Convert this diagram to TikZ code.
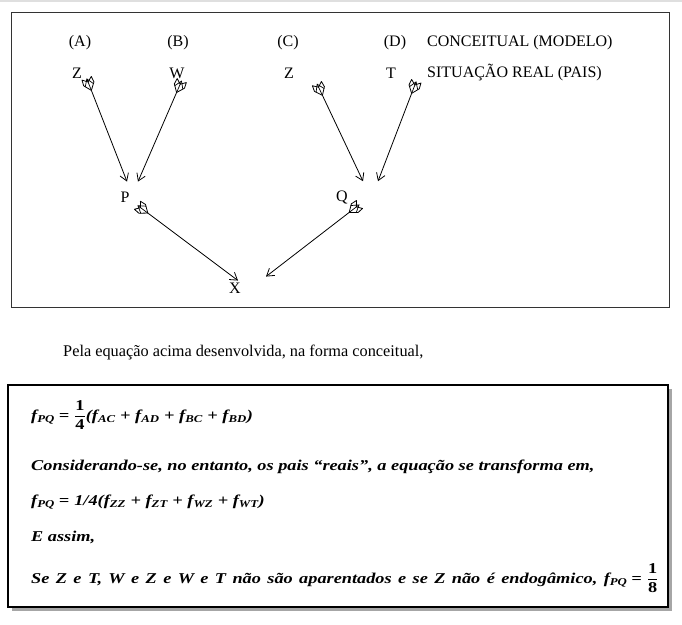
\documentclass[tikz,border=0pt]{standalone}
\usepackage{fontspec}
\setmainfont{Liberation Serif}
\newfontfamily\eqfont{Liberation Serif}[FakeStretch=1.22]
\usepackage{amsmath}
\usetikzlibrary{arrows.meta, decorations.markings}

\newcommand{\eqsign}{\hspace{4pt}=\hspace{5pt}}

\tikzset{
  lbl/.style={inner sep=1pt, font=\fontsize{16}{19}\selectfont},
  link/.style={line width=0.8pt, -{Straight Barb[length=7pt,width=9pt]},
    postaction={decorate, decoration={markings, mark=at position 0 with {
      \draw[line width=0.8pt, fill=white, line join=round] (1,0) -- (-6,5.5) -- (-12,5) -- (-8,0) -- (-12,-5) -- (-6,-5.5) -- cycle;
      \draw[line width=0.7pt] (1,0) -- (-12,0);}}}},
  eqline/.style={anchor=base west, inner sep=0pt, font=\fontsize{15}{18}\eqfont\bfseries\itshape},
}

\begin{document}
\begin{tikzpicture}[x=1pt, y=-1pt]
  \useasboundingbox (0,0) rectangle (682,624);
  \fill[gray!25] (0,0) rectangle (682,2);
  % upper frame
  \draw[black!80, line width=1pt] (11,12) rectangle (669,307);
  % model row
  \node[lbl] (a) at (80,43) {(A)};
  \node[lbl] (b) at (178,43) {(B)};
  \node[lbl] (c) at (288,43) {(C)};
  \node[lbl] (d) at (395,43) {(D)};
  \node[lbl, anchor=west] (model) at (426,43) {CONCEITUAL (MODELO)};
  % real row
  \node[lbl] (za) at (77,73) {Z};
  \node[lbl] (w) at (177,73) {W};
  \node[lbl] (zc) at (289,73) {Z};
  \node[lbl] (t) at (391,73) {T};
  \node[lbl, anchor=west] (real) at (426,73) {SITUAÇÃO REAL (PAIS)};
  % parents and child
  \node[lbl] (p) at (125,197) {P};
  \node[lbl] (q) at (342,197) {Q};
  \node[lbl] (x) at (235,288) {X};
  \draw[link] ([shift={(14,10)}]za.south) -- ([shift={(2,-9)}]p.north);
  \draw[link] ([shift={(0,12)}]w.south) -- ([shift={(13,-9)}]p.north);
  \draw[link] ([shift={(33,15)}]zc.south) -- ([shift={(21,-8)}]q.north);
  \draw[link] ([shift={(21,13)}]t.south) -- ([shift={(36,-8)}]q.north);
  \draw[link] ([shift={(22,9)}]p.south) -- ([shift={(3,-1)}]x.north);
  \draw[link] ([shift={(8,7)}]q.south) -- ([shift={(31,-5)}]x.north);
  % text between
  \node[lbl, anchor=base west, font=\fontsize{16.3}{19}\selectfont] (intro) at (62,356) {Pela equação acima desenvolvida, na forma conceitual,};
  % lower frame
  \fill[gray!70] (12,389) rectangle (672,611);
  \draw[fill=white, line width=1.6pt] (8,385) rectangle (668,607);
  \node[eqline] (eq1) at (31,420) {f\textsubscript{PQ}\eqsign$\dfrac{\text{\upshape 1}}{\text{\upshape 4}}$(f\textsubscript{AC} + f\textsubscript{AD} + f\textsubscript{BC} + f\textsubscript{BD})};
  \node[eqline] (eq2) at (31,470) {Considerando-se, no entanto, os pais “reais”, a equação se transforma em,};
  \node[eqline] (eq3) at (31,505) {f\textsubscript{PQ}\eqsign 1/4(f\textsubscript{ZZ} + f\textsubscript{ZT} + f\textsubscript{WZ} + f\textsubscript{WT})};
  \node[eqline] (eq4) at (31,541) {E assim,};
  \node[eqline] (eq5) at (31,583) {\spaceskip=6.4pt Se Z e T, W e Z e W e T não são aparentados e se Z não é endogâmico, f\textsubscript{PQ}\eqsign$\dfrac{\text{\upshape 1}}{\text{\upshape 8}}$};
\end{tikzpicture}
\end{document}
